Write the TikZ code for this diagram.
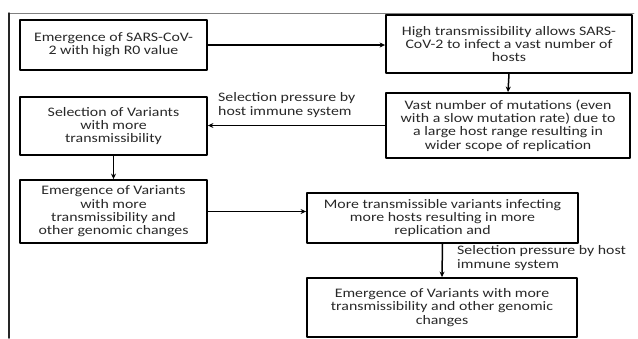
\documentclass[tikz,border=0pt]{standalone}
\usepackage{fontspec}
\setmainfont[FakeStretch=1.22]{Carlito}
\usetikzlibrary{arrows.meta}
\definecolor{txtgray}{RGB}{40,40,40}
\begin{document}
\begin{tikzpicture}[x=1pt,y=-1pt, line cap=round,line join=round,
    box/.style={draw, line width=1.8pt, align=center, inner sep=2pt, text=txtgray,
        font=\fontsize{13}{13.3}\selectfont},
    lbl/.style={align=left, inner sep=0pt, text=txtgray, font=\fontsize{13}{13.3}\selectfont},
    flow/.style={line width=1.5pt, -{Stealth[length=5.5pt,width=5pt]}}]
    \useasboundingbox (0,0) rectangle (638,338);
    \draw [line width=0.8pt, gray] (9,13)-- (634,13);
    \draw [line width=1.5pt, black!85] (9,13)-- (9,338);
    \node [box, minimum width=187pt, minimum height=50pt] (emerge) at (113.5,45) {Emergence of SARS-CoV-\\2 with high R0 value};
    \node [box, minimum width=246pt, minimum height=58pt] (hightrans) at (509,44) {High transmissibility allows SARS-\\CoV-2 to infect a vast number of\\hosts};
    \node [box, minimum width=244pt, minimum height=65pt] (mutations) at (508,125.5) {Vast number of mutations (even\\with a slow mutation rate) due to\\a large host range resulting in\\wider scope of replication};
    \node [box, minimum width=187pt, minimum height=58pt] (selection) at (113.5,126) {Selection of Variants\\with more\\transmissibility};
    \node [box, minimum width=187pt, minimum height=63pt] (variants) at (113.5,211.5) {Emergence of Variants\\with more\\transmissibility and\\other genomic changes};
    \node [box, minimum width=271pt, minimum height=50pt] (infecting) at (442.5,218) {More transmissible variants infecting\\more hosts resulting in more\\replication and};
    \node [box, minimum width=270pt, minimum height=59pt] (final) at (442,307.5) {Emergence of Variants with more\\transmissibility and other genomic\\changes};
    \node [lbl, anchor=west] (press1) at (218,105) {Selection pressure by\\host immune system};
    \node [lbl, anchor=west] (press2) at (457,258) {Selection pressure by host\\immune system};
    \draw [flow] (emerge.east)-- (emerge.east -| hightrans.west);
    \draw [flow] (hightrans.south)-- (mutations.north);
    \draw [flow] (mutations.west)-- (mutations.west -| selection.east);
    \draw [flow] (selection.south)-- (variants.north);
    \draw [flow] (variants.east)-- (variants.east -| infecting.west);
    \draw [flow] (infecting.south)-- (final.north);
\end{tikzpicture}
\end{document}
